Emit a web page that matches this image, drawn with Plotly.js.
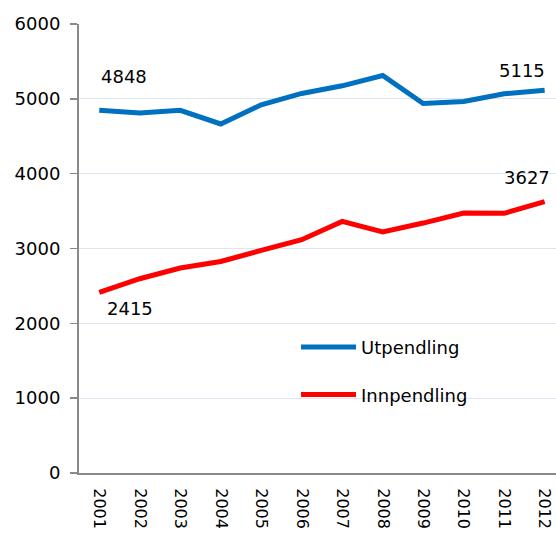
<!DOCTYPE html>
<html>
<head>
<meta charset="utf-8">
<script src="https://cdn.plot.ly/plotly-3.0.1.min.js"></script>
<style>html,body{margin:0;padding:0;background:#fff;}#chart{width:556px;height:534px;}</style>
</head>
<body>
<div id="chart"></div>
<script>
const years = [2001, 2002, 2003, 2004, 2005, 2006, 2007, 2008, 2009, 2010, 2011, 2012];
const utpendling = [4848, 4811, 4846, 4664, 4920, 5072, 5174, 5312, 4938, 4965, 5067, 5115];
const innpendling = [2415, 2596, 2739, 2827, 2974, 3117, 3362, 3220, 3340, 3474, 3470, 3627];
const yTicks = [0, 1000, 2000, 3000, 4000, 5000, 6000];

const font = {family: 'DejaVu Sans, Liberation Sans, Arial, sans-serif', size: 18, color: '#000'};
const xTickFont = {family: 'DejaVu Sans, Liberation Sans, Arial, sans-serif', size: 16, color: '#000'};

const traces = [
  {x: years, y: utpendling, type: 'scatter', mode: 'lines', name: 'Utpendling',
   line: {color: '#0070C0', width: 5}, legendgroup: 'a'},
  {x: years, y: innpendling, type: 'scatter', mode: 'lines', name: 'Innpendling',
   line: {color: '#FF0000', width: 5}, legendgroup: 'b'}
];

const last = years.length - 1;
const annotations = [
  {x: years[0], y: utpendling[0], text: String(utpendling[0]), xanchor: 'center', yanchor: 'bottom', xshift: 25, yshift: 21},
  {x: years[last], y: utpendling[last], text: String(utpendling[last]), xanchor: 'center', yanchor: 'bottom', xshift: -23, yshift: 7},
  {x: years[last], y: innpendling[last], text: String(innpendling[last]), xanchor: 'center', yanchor: 'bottom', xshift: -18, yshift: 12},
  {x: years[0], y: innpendling[0], text: String(innpendling[0]), xanchor: 'center', yanchor: 'top', xshift: 31, yshift: -4}
].map(a => Object.assign({xref: 'x', yref: 'y', showarrow: false, font: font}, a));

const layout = {
  width: 556, height: 534,
  margin: {l: 79, r: 0, t: 24, b: 61},
  paper_bgcolor: '#fff', plot_bgcolor: '#fff',
  font: font,
  showlegend: true,
  legend: {x: 0.455, y: 0.321, xanchor: 'left', yanchor: 'top', bgcolor: 'rgba(0,0,0,0)',
           traceorder: 'grouped', tracegroupgap: 21, itemwidth: 55, font: font},
  xaxis: {range: [2000.5, 2012.28], tickvals: years, ticktext: years.map(String),
          tickangle: 90, showgrid: false, zeroline: false, showline: true,
          linecolor: '#898989', linewidth: 2, ticks: '', ticklabelstandoff: 10,
          ticklabeloverflow: 'allow', tickfont: xTickFont, fixedrange: true},
  yaxis: {range: [0, 6000], tickvals: yTicks, ticktext: yTicks.map(String),
          showgrid: true, gridcolor: '#DCE6F2', gridwidth: 1, zeroline: false,
          showline: true, linecolor: '#898989', linewidth: 2, ticks: 'outside',
          ticklen: 7, tickcolor: '#898989', tickwidth: 1.5, ticklabelstandoff: 6,
          tickfont: font, fixedrange: true},
  annotations: annotations
};

Plotly.newPlot('chart', traces, layout, {displayModeBar: false, staticPlot: true});
</script>
</body>
</html>
